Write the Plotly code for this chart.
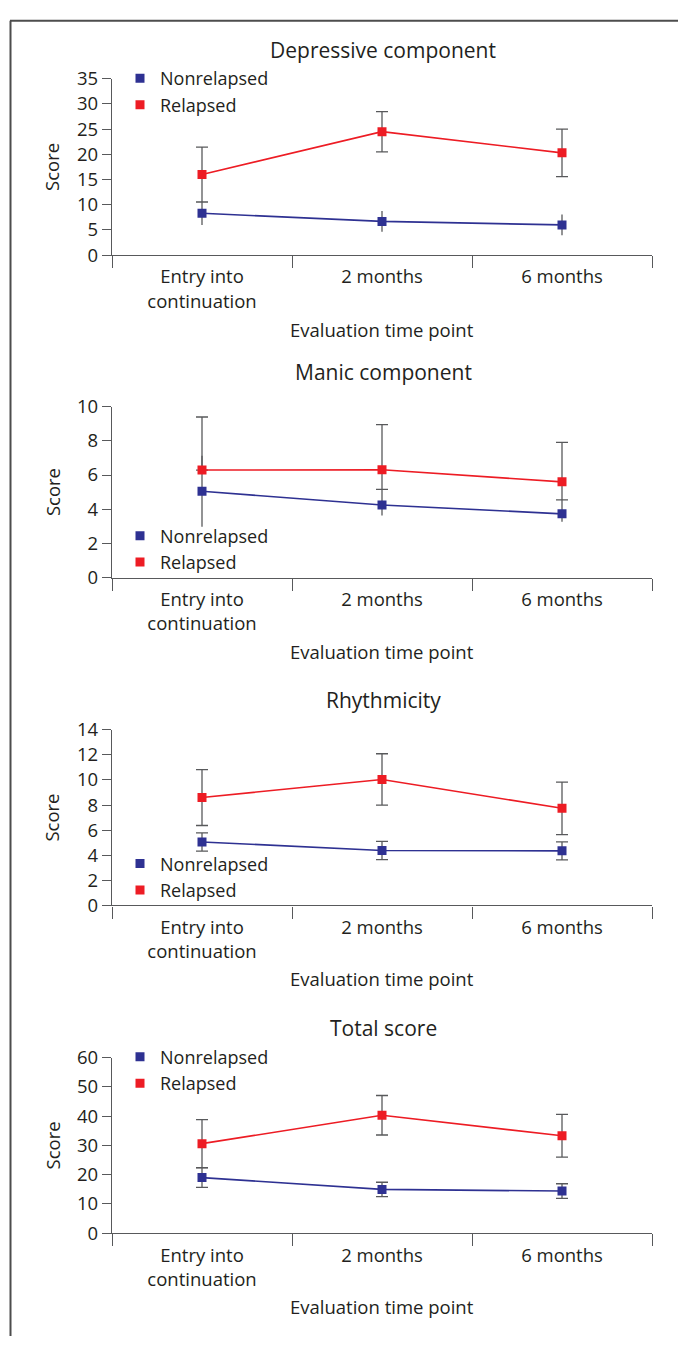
import plotly.graph_objects as go

W, H = 678, 1347

categories = ["Entry into<br>continuation", "2 months", "6 months"]
series_names = ["Nonrelapsed", "Relapsed"]
panel_titles = ["Depressive component", "Manic component", "Rhythmicity", "Total score"]
y_max = [35, 10, 14, 60]
y_dtick = [5, 2, 2, 10]

# Depressive component
dep_nonrel = [8.3, 6.7, 6.0]
dep_nonrel_err_plus = [2.3, 2.05, 2.05]
dep_nonrel_err_minus = [2.3, 2.05, 2.05]
dep_rel = [16.0, 24.5, 20.3]
dep_rel_err_plus = [5.45, 4.0, 4.7]
dep_rel_err_minus = [5.45, 4.0, 4.7]

# Manic component
man_nonrel = [5.05, 4.25, 3.73]
man_nonrel_err_plus = [2.07, 0.91, 0.82]
man_nonrel_err_minus = [2.07, 0.62, 0.46]
man_rel = [6.29, 6.31, 5.6]
man_rel_err_plus = [3.1, 2.64, 2.31]
man_rel_err_minus = [0.0, 1.15, 1.05]

# Rhythmicity
rhy_nonrel = [5.06, 4.38, 4.35]
rhy_nonrel_err_plus = [0.73, 0.73, 0.72]
rhy_nonrel_err_minus = [0.73, 0.73, 0.72]
rhy_rel = [8.6, 10.04, 7.74]
rhy_rel_err_plus = [2.23, 2.05, 2.09]
rhy_rel_err_minus = [2.23, 2.05, 2.09]

# Total score
tot_nonrel = [19.0, 14.97, 14.41]
tot_nonrel_err_plus = [3.3, 2.45, 2.5]
tot_nonrel_err_minus = [3.3, 2.45, 2.5]
tot_rel = [30.6, 40.3, 33.3]
tot_rel_err_plus = [8.2, 6.75, 7.3]
tot_rel_err_minus = [8.2, 6.75, 7.3]

panels = [
    (dep_nonrel, dep_nonrel_err_plus, dep_nonrel_err_minus, dep_rel, dep_rel_err_plus, dep_rel_err_minus),
    (man_nonrel, man_nonrel_err_plus, man_nonrel_err_minus, man_rel, man_rel_err_plus, man_rel_err_minus),
    (rhy_nonrel, rhy_nonrel_err_plus, rhy_nonrel_err_minus, rhy_rel, rhy_rel_err_plus, rhy_rel_err_minus),
    (tot_nonrel, tot_nonrel_err_plus, tot_nonrel_err_minus, tot_rel, tot_rel_err_plus, tot_rel_err_minus),
]

# ---- styling / layout (pixel geometry) ----
FONT = "Open Sans"
TXT = "#231f20"
AX = "#58595b"
BLUE = "#2e3192"
RED = "#ed1c24"
nonrel_cap = [0, 0, 6, 6]

x_left, x_right = 112, 652
plot_px = [(66, 245.7), (400, 574.3), (729.3, 908.3), (1063.3, 1242.3)]
title_y = [37, 365, 699, 1033]
xtitle_y = [321, 650, 983, 1317]
legend_top = [47, 513, 847, 1044]
legend_left = 120

def px_x(x):
    return x / W

def px_y(y):
    return 1 - y / H

fig = go.Figure()
annotations = []
for i, (nr, nrp, nrm, rl, rlp, rlm) in enumerate(panels):
    k = "" if i == 0 else str(i + 1)
    xa, ya = "x" + k, "y" + k
    lg = "legend" + k
    fig.add_trace(go.Scatter(
        x=categories, y=nr, mode="lines+markers", name=series_names[0], showlegend=False,
        xaxis=xa, yaxis=ya,
        line=dict(color=BLUE, width=1.6),
        marker=dict(symbol="square", size=9, color=BLUE),
        error_y=dict(type="data", symmetric=False, array=nrp, arrayminus=nrm,
                     color=AX, thickness=1.3, width=nonrel_cap[i]),
    ))
    fig.add_trace(go.Scatter(
        x=categories, y=rl, mode="lines+markers", name=series_names[1], showlegend=False,
        xaxis=xa, yaxis=ya,
        line=dict(color=RED, width=1.6),
        marker=dict(symbol="square", size=9, color=RED),
        error_y=dict(type="data", symmetric=False, array=rlp, arrayminus=rlm,
                     color=AX, thickness=1.3, width=6),
    ))
    for name, col in zip(series_names, [BLUE, RED]):
        fig.add_trace(go.Scatter(
            x=[None], y=[None], mode="markers", name=name, legend=lg,
            xaxis=xa, yaxis=ya,
            marker=dict(symbol="square", size=9, color=col),
        ))

    top, bot = plot_px[i]
    fig.layout["xaxis" + k] = dict(
        domain=[px_x(x_left), px_x(x_right)], anchor=ya,
        type="category", categoryorder="array", categoryarray=categories,
        range=[-0.5, 2.5], tickson="boundaries",
        showline=True, linecolor=AX, linewidth=1.3,
        ticks="outside", ticklen=12, tickwidth=1.3, tickcolor=AX,
        ticklabelstandoff=5,
        showgrid=False, zeroline=False,
        tickfont=dict(family=FONT, size=18.5, color=TXT),
    )
    fig.layout["yaxis" + k] = dict(
        domain=[px_y(bot), px_y(top)], anchor=xa,
        range=[0, y_max[i]], dtick=y_dtick[i], tick0=0,
        showline=True, linecolor=AX, linewidth=1.3,
        ticks="outside", ticklen=9, tickwidth=1.3, tickcolor=AX,
        showgrid=False, zeroline=False,
        tickfont=dict(family=FONT, size=18.5, color=TXT),
    )
    fig.layout[lg] = dict(
        x=px_x(legend_left), y=px_y(legend_top[i]), xanchor="left", yanchor="top",
        bgcolor="rgba(0,0,0,0)", borderwidth=0,
        font=dict(family=FONT, size=18, color=TXT),
        itemsizing="trace",
    )
    annotations.append(dict(
        text=panel_titles[i], x=px_x(383), y=px_y(title_y[i]), xref="paper", yref="paper",
        xanchor="center", yanchor="middle", showarrow=False,
        font=dict(family=FONT, size=21, color=TXT),
    ))
    annotations.append(dict(
        text="Evaluation time point", x=px_x(382), y=px_y(xtitle_y[i]), xref="paper", yref="paper",
        xanchor="center", yanchor="middle", showarrow=False,
        font=dict(family=FONT, size=18.5, color=TXT),
    ))
    annotations.append(dict(
        text="Score", x=px_x(52), y=px_y((top + bot) / 2), xref="paper", yref="paper",
        xanchor="center", yanchor="middle", showarrow=False, textangle=-90,
        font=dict(family=FONT, size=18.5, color=TXT),
    ))

shapes = [
    dict(type="line", xref="paper", yref="paper", x0=px_x(10), x1=1, y0=px_y(7), y1=px_y(7),
         line=dict(color="#4d4d4d", width=2)),
    dict(type="line", xref="paper", yref="paper", x0=px_x(10.5), x1=px_x(10.5), y0=px_y(7), y1=0,
         line=dict(color="#4d4d4d", width=2)),
]

fig.update_layout(
    width=W, height=H,
    margin=dict(l=0, r=0, t=0, b=0),
    paper_bgcolor="white", plot_bgcolor="white",
    annotations=annotations, shapes=shapes,
    font=dict(family=FONT, color=TXT),
)

page_fix = (
    "var gd=document.getElementById('{plot_id}');"
    "var de=document.documentElement, b=document.body;"
    "de.style.margin='0';de.style.padding='0';b.style.margin='0';b.style.padding='0';"
    "de.style.overflow='hidden';b.style.overflow='hidden';"
    "de.style.height='1347px';b.style.height='1347px';"
    "gd.style.position='absolute';gd.style.left='0px';gd.style.top='0px';"
)

fig.write_html("out.html", config={"displayModeBar": False}, post_script=page_fix)
